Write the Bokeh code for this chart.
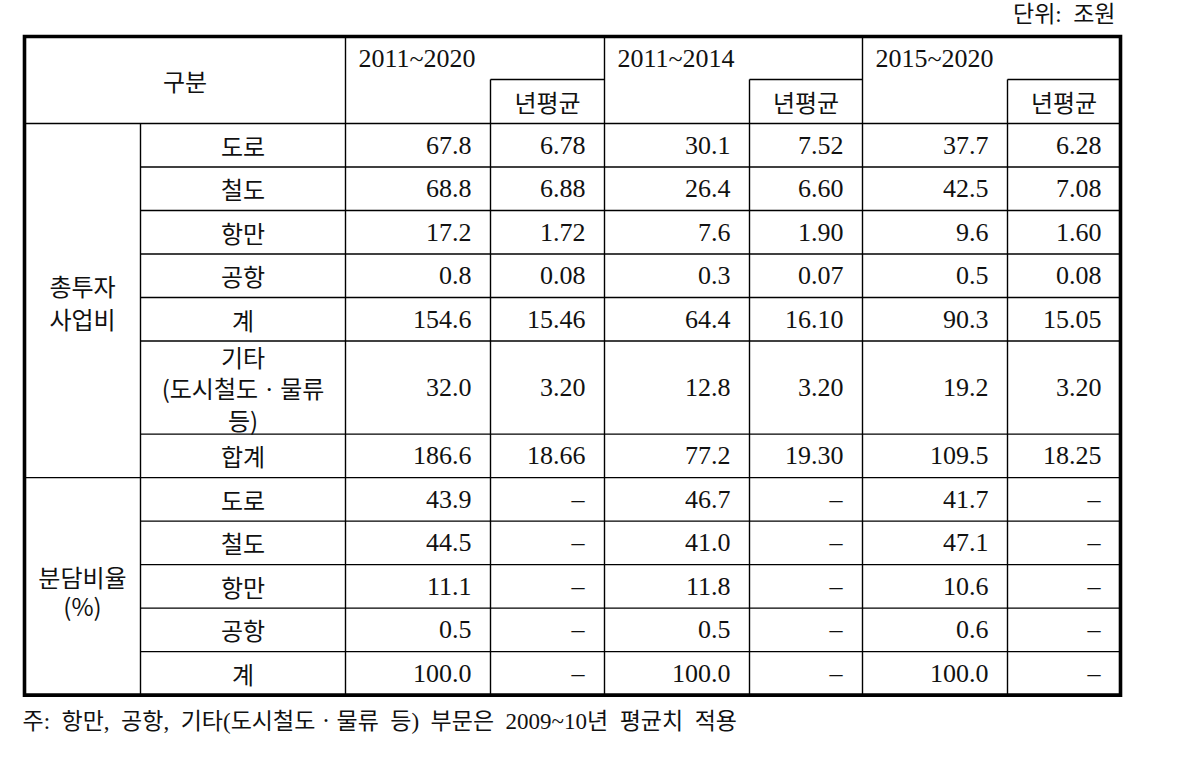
from bokeh.plotting import figure
from bokeh.models import Range1d
from bokeh.core.properties import value
from bokeh.embed import file_html
from bokeh.resources import INLINE

# ---------------- data ----------------
periods = ["2011~2020", "2011~2014", "2015~2020"]
avg_label = "년평균"
group_labels = [["총투자", "사업비"], ["분담비율", "(%)"]]
total_rows = ["도로", "철도", "항만", "공항", "계", ["기타", "(도시철도ㆍ물류", "등)"], "합계"]
share_rows = ["도로", "철도", "항만", "공항", "계"]

tot_2011_2020 = [67.8, 68.8, 17.2, 0.8, 154.6, 32.0, 186.6]
avg_2011_2020 = [6.78, 6.88, 1.72, 0.08, 15.46, 3.20, 18.66]
tot_2011_2014 = [30.1, 26.4, 7.6, 0.3, 64.4, 12.8, 77.2]
avg_2011_2014 = [7.52, 6.60, 1.90, 0.07, 16.10, 3.20, 19.30]
tot_2015_2020 = [37.7, 42.5, 9.6, 0.5, 90.3, 19.2, 109.5]
avg_2015_2020 = [6.28, 7.08, 1.60, 0.08, 15.05, 3.20, 18.25]

share_2011_2020 = [43.9, 44.5, 11.1, 0.5, 100.0]
share_2011_2014 = [46.7, 41.0, 11.8, 0.5, 100.0]
share_2015_2020 = [41.7, 47.1, 10.6, 0.6, 100.0]

SP = "\u00a0 "
unit_text = "단위:" + SP + "조원"
note_text = SP.join(["주:", "항만,", "공항,", "기타(도시철도ㆍ물류", "등)", "부문은",
                     "2009~10년", "평균치", "적용"])

# ---------------- layout ----------------
W, H = 1161, 756
p = figure(width=W, height=H, output_backend="svg", toolbar_location=None,
           x_range=Range1d(0, W), y_range=Range1d(H, 0),
           min_border=0, min_border_left=0, min_border_right=0,
           min_border_top=0, min_border_bottom=0)
p.axis.visible = False
p.grid.visible = False
p.outline_line_color = None
p.background_fill_color = "white"
p.border_fill_color = "white"

# column edges
X_L, X_G, X_S = 24, 140, 345
col_edges = [345, 490, 604, 749, 862, 1007, 1120]
Y_T, Y_MID, Y_HB = 36, 79, 123
row_h = 43.5
tot_heights = [1, 1, 1, 1, 1, 2.14, 1]
share_heights = [1, 1, 1, 1, 1]

# compute row boundaries
y = Y_HB
tot_bounds = [y]
for h in tot_heights:
    y += h * row_h
    tot_bounds.append(y)
share_bounds = [y]
for h in share_heights:
    y += h * row_h
    share_bounds.append(y)
Y_B = share_bounds[-1]

KFONT = value("Noto Sans CJK KR")
NFONT = value("Liberation Serif")
MFONT = value("'Liberation Serif', 'Noto Sans CJK KR'")
KSIZE = "24px"
NSIZE = "26px"
LC = "#000000"
TC = "#111111"

# ---------- grid lines ----------
x0s, y0s, x1s, y1s = [], [], [], []
def seg(a, b, c, d):
    x0s.append(a); y0s.append(b); x1s.append(c); y1s.append(d)

for i in range(3):
    seg(col_edges[2 * i + 1], Y_MID, col_edges[2 * i + 2], Y_MID)
seg(X_L, Y_HB, col_edges[-1], Y_HB)
for yy in tot_bounds[1:-1]:
    seg(X_G, yy, col_edges[-1], yy)
seg(X_L, tot_bounds[-1], col_edges[-1], tot_bounds[-1])
for yy in share_bounds[1:-1]:
    seg(X_G, yy, col_edges[-1], yy)
seg(X_G, Y_HB, X_G, Y_B)
for i, xx in enumerate(col_edges[:-1]):
    seg(xx, Y_T if i % 2 == 0 else Y_MID, xx, Y_B)
p.segment(x0=x0s, y0=y0s, x1=x1s, y1=y1s, line_color=LC, line_width=1.4)

# thick outer border
p.quad(left=[X_L], right=[col_edges[-1]], top=[Y_T], bottom=[Y_B],
       fill_alpha=0, line_color=LC, line_width=3.6, line_join="miter")

# ---------- header texts ----------
p.text(x=[(X_L + X_S) / 2], y=[(Y_T + Y_HB) / 2], text=["구분"], text_font=KFONT,
       text_font_size=KSIZE, text_align="center", text_baseline="middle", text_color=TC)
p.text(x=[col_edges[2 * i] + 13 for i in range(3)], y=[(Y_T + Y_MID) / 2] * 3,
       text=periods, text_font=NFONT, text_font_size=NSIZE, text_align="left",
       text_baseline="middle", text_color=TC)
p.text(x=[(col_edges[2 * i + 1] + col_edges[2 * i + 2]) / 2 for i in range(3)],
       y=[(Y_MID + Y_HB) / 2] * 3, text=[avg_label] * 3, text_font=KFONT,
       text_font_size=KSIZE, text_align="center", text_baseline="middle", text_color=TC)

# ---------- group labels ----------
for gi, (lines, (ya, yb)) in enumerate(zip(group_labels, [(tot_bounds[0], tot_bounds[-1]),
                                                          (share_bounds[0], share_bounds[-1])])):
    c = (ya + yb) / 2 + (1 if gi == 0 else 5)
    n = len(lines)
    sp = 33 if gi == 0 else 29
    p.text(x=[(X_L + X_G) / 2] * n, y=[c + (k - (n - 1) / 2) * sp for k in range(n)],
           text=lines, text_font=KFONT, text_font_size=KSIZE, text_align="center",
           text_baseline="middle", text_color=TC)

# ---------- row labels ----------
xs_lab, ys_lab, ts_lab = [], [], []
def add_labels(rows, bounds):
    for i, lab in enumerate(rows):
        c = (bounds[i] + bounds[i + 1]) / 2
        lines = lab if isinstance(lab, list) else [lab]
        n = len(lines)
        for k, t in enumerate(lines):
            xs_lab.append((X_G + X_S) / 2)
            ys_lab.append(c + (k - (n - 1) / 2) * 31.5)
            ts_lab.append(t)
add_labels(total_rows, tot_bounds)
add_labels(share_rows, share_bounds)
p.text(x=xs_lab, y=ys_lab, text=ts_lab, text_font=KFONT, text_font_size=KSIZE,
       text_align="center", text_baseline="middle", text_color=TC)

# ---------- values ----------
xs_v, ys_v, ts_v = [], [], []
pad = 19
tot_cols = [(tot_2011_2020, avg_2011_2020), (tot_2011_2014, avg_2011_2014),
            (tot_2015_2020, avg_2015_2020)]
for i, (tv, av) in enumerate(tot_cols):
    for r in range(len(tv)):
        c = (tot_bounds[r] + tot_bounds[r + 1]) / 2
        xs_v.append(col_edges[2 * i + 1] - pad); ys_v.append(c); ts_v.append(f"{tv[r]:.1f}")
        xs_v.append(col_edges[2 * i + 2] - pad); ys_v.append(c); ts_v.append(f"{av[r]:.2f}")
for i, sv in enumerate([share_2011_2020, share_2011_2014, share_2015_2020]):
    for r in range(len(sv)):
        c = (share_bounds[r] + share_bounds[r + 1]) / 2
        xs_v.append(col_edges[2 * i + 1] - pad); ys_v.append(c); ts_v.append(f"{sv[r]:.1f}")
        xs_v.append(col_edges[2 * i + 2] - pad - 1); ys_v.append(c); ts_v.append("–")
p.text(x=xs_v, y=ys_v, text=ts_v, text_font=NFONT, text_font_size=NSIZE,
       text_align="right", text_baseline="middle", text_color=TC)

# ---------- unit & note ----------
p.text(x=[col_edges[-1] - 5], y=[14], text=[unit_text], text_font=MFONT,
       text_font_size="23px", text_align="right", text_baseline="middle", text_color=TC)
p.text(x=[22], y=[721], text=[note_text], text_font=MFONT,
       text_font_size="23px", text_align="left", text_baseline="middle", text_color=TC)

open("out.html", "w").write(file_html(p, INLINE))
